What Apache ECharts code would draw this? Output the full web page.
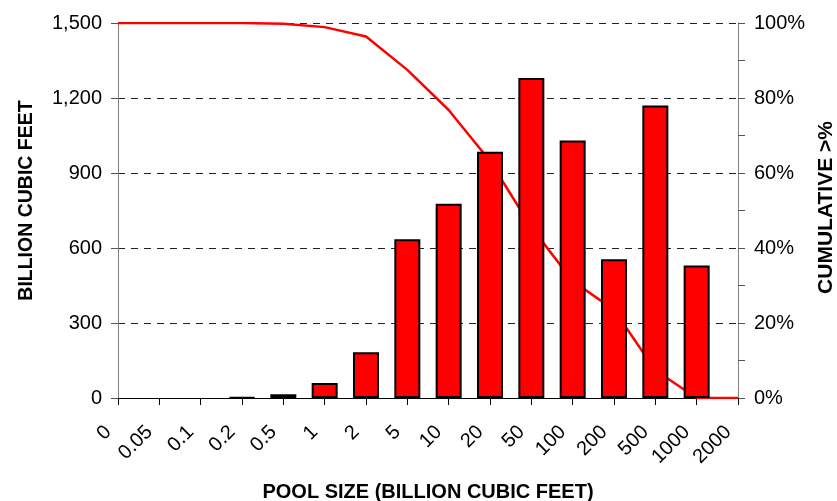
<!DOCTYPE html>
<html>
<head>
<meta charset="utf-8">
<script src="https://cdn.jsdelivr.net/npm/echarts@6/dist/echarts.min.js"></script>
<style>html,body{margin:0;padding:0;background:#fff}#c{width:837px;height:501px}</style>
</head>
<body>
<div id="c"></div>
<script>
const categories = ['0','0.05','0.1','0.2','0.5','1','2','5','10','20','50','100','200','500','1000','2000'];
const volumes = [0, 0, 0, 3, 15, 60, 183, 635, 777, 985, 1280, 1030, 555, 1170, 530, 0];
const cumulative = [100, 100, 100, 100, 99.8, 98.9, 96.4, 87.5, 76.8, 63.2, 45.5, 31.2, 23.5, 7.4, 0, 0];
const leftTicks = {min: 0, max: 1500, interval: 300};
const rightTicks = {min: 0, max: 100, interval: 10};

const font = 'Liberation Sans, Arial, sans-serif';
const chart = echarts.init(document.getElementById('c'), null, {renderer: 'canvas'});
chart.setOption({
  animation: false,
  backgroundColor: '#fff',
  grid: {left: 118, right: 99, top: 23, bottom: 103, containLabel: false, outerBoundsMode: 'none'},
  xAxis: {
    type: 'category',
    data: categories,
    boundaryGap: false,
    name: 'POOL SIZE (BILLION CUBIC FEET)',
    nameLocation: 'middle',
    nameGap: 84,
    nameTextStyle: {fontFamily: font, fontWeight: 'bold', fontSize: 20, color: '#000'},
    axisLine: {lineStyle: {color: '#000', width: 1}},
    axisTick: {show: true, length: 7, interval: 0, lineStyle: {color: '#000'}},
    axisLabel: {interval: 0, rotate: 45, margin: 21, padding: [0, 14, 0, 0], fontFamily: font, fontSize: 20, color: '#000'},
    splitLine: {show: false}
  },
  yAxis: [
    {
      type: 'value',
      min: leftTicks.min, max: leftTicks.max, interval: leftTicks.interval,
      name: 'BILLION CUBIC FEET',
      nameLocation: 'middle',
      nameRotate: 90,
      nameGap: 81,
      nameTextStyle: {fontFamily: font, fontWeight: 'bold', fontSize: 19.5, color: '#000', padding: [0, 0, 0, 20]},
      axisLine: {show: true, lineStyle: {color: '#808080', width: 1}},
      axisTick: {show: true, length: 7, lineStyle: {color: '#555'}},
      axisLabel: {margin: 16, fontFamily: font, fontSize: 20, color: '#000',
        formatter: v => v.toLocaleString('en-US')},
      splitLine: {show: true, lineStyle: {color: '#222', width: 1, type: [7, 6]}}
    },
    {
      type: 'value',
      position: 'right',
      min: rightTicks.min, max: rightTicks.max, interval: rightTicks.interval,
      name: 'CUMULATIVE >%',
      nameLocation: 'middle',
      nameRotate: 90,
      nameGap: 78,
      nameTextStyle: {fontFamily: font, fontWeight: 'bold', fontSize: 21, color: '#000', padding: [0, 0, 0, 6]},
      axisLine: {show: true, lineStyle: {color: '#808080', width: 1}},
      axisTick: {show: true, length: 7, lineStyle: {color: '#555'}},
      axisLabel: {margin: 16, fontFamily: font, fontSize: 20, color: '#000',
        formatter: v => (Math.round(v) % 20 === 0 ? Math.round(v) + '%' : '')},
      splitLine: {show: false}
    }
  ],
  series: [
    {
      type: 'line',
      yAxisIndex: 1,
      data: cumulative,
      symbol: 'none',
      lineStyle: {color: '#ff0000', width: 2.5},
      z: 2
    },
    {
      type: 'bar',
      yAxisIndex: 0,
      data: volumes.map(v => (v === 0 ? '-' : v)),
      barWidth: 26,
      itemStyle: {color: '#ff0000', borderColor: '#000', borderWidth: 2},
      z: 3
    }
  ]
});
</script>
</body>
</html>
